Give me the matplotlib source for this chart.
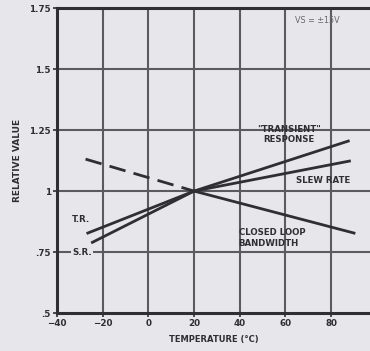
import matplotlib
matplotlib.use("Agg")
import matplotlib.pyplot as plt

# Normalised op-amp parameters versus ambient temperature
temps_tr = [-26.5, 20, 87.5]
transient_response = [0.828, 1.0, 1.205]

temps_sr = [-24.5, 20, 88]
slew_rate = [0.79, 1.0, 1.123]

temps_bw = [-27.5, 20, 90]
closed_loop_bw = [1.131, 1.0, 0.828]

x_ticks = [-40, -20, 0, 20, 40, 60, 80]
x_tick_labels = ["−40", "−20", "0", "20", "40", "60", "80"]
y_ticks = [0.5, 0.75, 1.0, 1.25, 1.5, 1.75]
y_tick_labels = [".5", ".75", "1", "1.25", "1.5", "1.75"]

bg = "#e7e7eb"
ink = "#2e2e33"
grid_c = "#5a5a60"

fig = plt.figure(figsize=(3.70, 3.51), dpi=100, facecolor=bg)
ax = fig.add_axes([0.154, 0.108, 0.846, 0.869], facecolor=bg)

ax.set_xlim(-40, 97)
ax.set_ylim(0.5, 1.75)

ax.set_xticks(x_ticks)
ax.set_xticklabels(x_tick_labels)
ax.set_yticks(y_ticks)
ax.set_yticklabels(y_tick_labels)
ax.tick_params(axis="both", labelsize=6.3, colors=ink, length=3, width=1.2, pad=1.5)
for lab in ax.get_xticklabels() + ax.get_yticklabels():
    lab.set_fontweight("bold")

# grid
for t in x_ticks[1:]:
    ax.axvline(t, color=grid_c, lw=1.5, zorder=1)
for v in y_ticks[1:-1]:
    ax.axhline(v, color=grid_c, lw=1.5, zorder=1)

for side in ("left", "bottom", "top"):
    ax.spines[side].set_color(ink)
    ax.spines[side].set_linewidth(2.2)
ax.spines["right"].set_visible(False)

# curves
ax.plot(temps_tr, transient_response, color=ink, lw=2.0, zorder=3)
ax.plot(temps_sr, slew_rate, color=ink, lw=2.0, zorder=3)
ax.plot(temps_bw[:2], closed_loop_bw[:2], color=ink, lw=2.0,
        dashes=(6, 3), zorder=3)
ax.plot(temps_bw[1:], closed_loop_bw[1:], color=ink, lw=2.0, zorder=3)

# curve labels
txt = dict(fontsize=6.2, fontweight="bold", color=ink, zorder=4)
ax.text(61.5, 1.232, "\"TRANSIENT\"\nRESPONSE", ha="center", va="center",
        linespacing=1.25, **txt)
ax.text(76.5, 1.045, "SLEW RATE", ha="center", va="center", **txt)
ax.text(39.5, 0.808, "CLOSED LOOP\nBANDWIDTH", ha="left", va="center",
        linespacing=1.2, **txt)
ax.text(-29.5, 0.885, "T.R.", ha="center", va="center", **txt)
ax.text(-29, 0.75, "S.R.", ha="center", va="center",
        bbox=dict(facecolor=bg, edgecolor="none", pad=0.6), **txt)
ax.text(74, 1.70, "VS = ±15V", ha="center", va="center",
        fontsize=5.8, color="#66666c", zorder=4)

ax.set_xlabel("TEMPERATURE (°C)", fontsize=6, fontweight="bold",
              color=ink, labelpad=5)
ax.set_ylabel("RELATIVE VALUE", fontsize=6.5, fontweight="bold",
              color=ink, labelpad=5)

fig.savefig("out.png", dpi=100, facecolor=bg)
